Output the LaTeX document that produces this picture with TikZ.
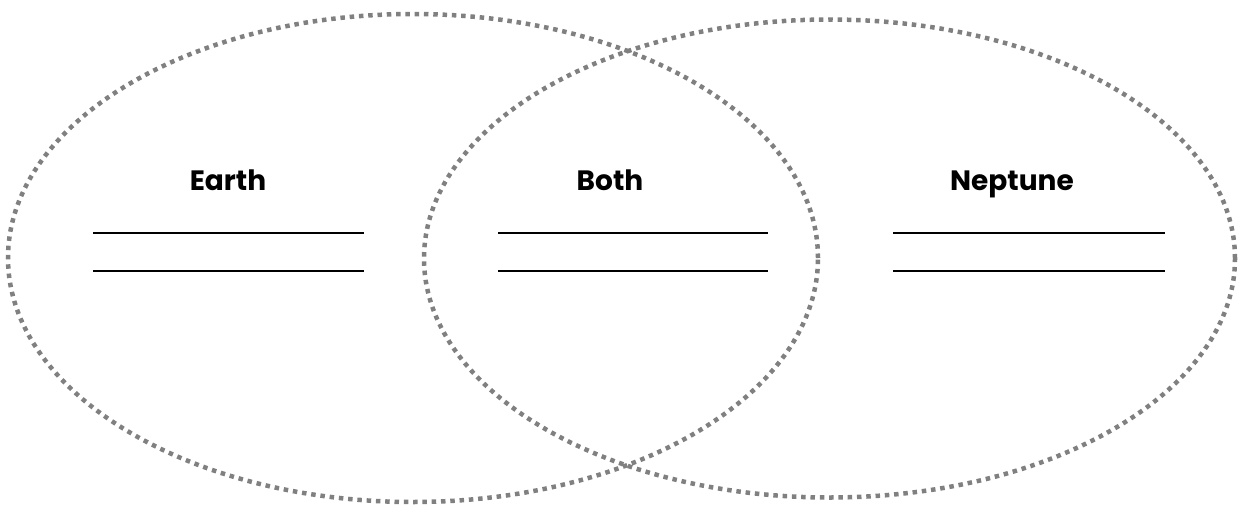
\documentclass[tikz,border=0pt]{standalone}
\usepackage{fontspec}
\setmainfont{Poppins}[BoldFont={Poppins Bold}]
\begin{document}
\begin{tikzpicture}[x=1pt,y=-1pt,
  ring/.style={draw=black!50, line width=4.5pt, dash pattern=on 4.5pt off 4.8pt},
  title/.style={font=\bfseries\fontsize{28}{33}\selectfont, anchor=base, inner sep=0pt},
  rule/.style={draw=black, line width=2.3pt}]
\useasboundingbox (0,0) rectangle (1240,512);
\draw[ring] (413,258) ellipse [x radius=405pt, y radius=244pt];
\draw[ring] (829.5,258.5) ellipse [x radius=405.5pt, y radius=239pt];
\node[title] (earth) at (228,190) {Earth};
\node[title] (both) at (610,190) {Both};
\node[title] (neptune) at (1012,190) {Neptune};
\foreach \n/\a/\b in {e/93/364, b/498/768, n/893/1165}{
  \coordinate (\n1l) at (\a,233); \coordinate (\n1r) at (\b,233);
  \coordinate (\n2l) at (\a,271); \coordinate (\n2r) at (\b,271);
  \draw[rule] (\n1l) -- (\n1r);
  \draw[rule] (\n2l) -- (\n2r);
}
\end{tikzpicture}
\end{document}
